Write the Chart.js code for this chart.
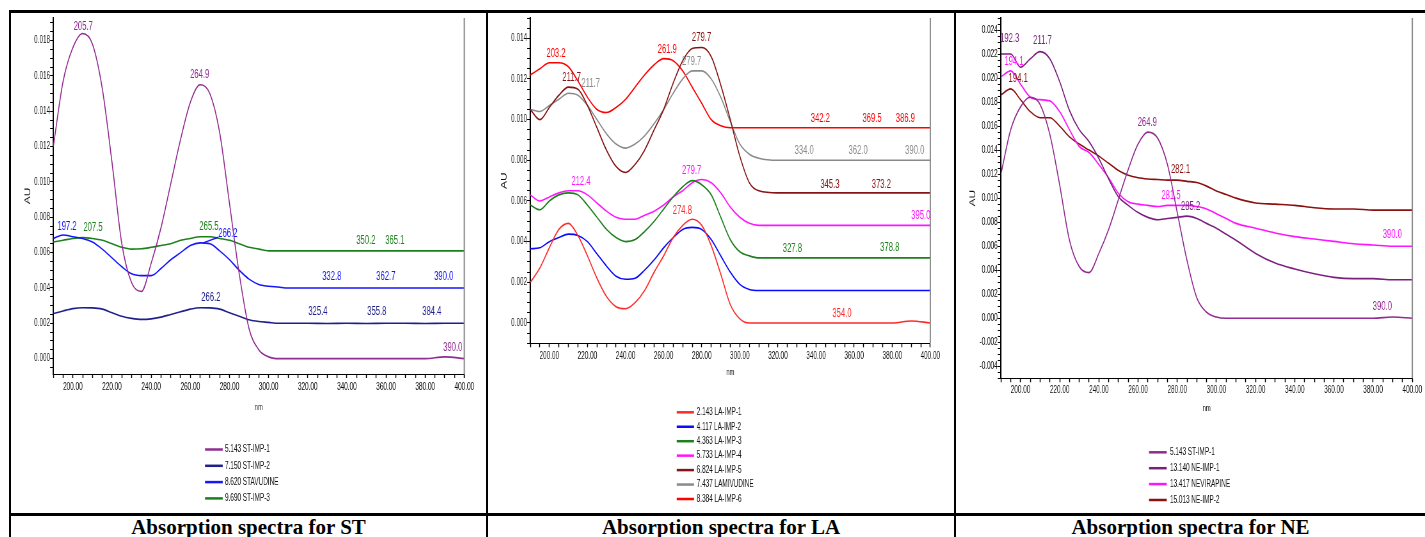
<!DOCTYPE html>
<html>
<head>
<meta charset="utf-8">
<title>Absorption spectra</title>
<script src="https://cdn.jsdelivr.net/npm/chart.js@4.4.1/dist/chart.umd.min.js"></script>
<style>
  html, body { margin: 0; padding: 0; background: #fff; }
  body { position: relative; width: 1425px; height: 537px; overflow: hidden; }
  canvas { position: absolute; top: 12px; }
  .rule { position: absolute; background: #000; z-index: 2; }
  .caption { position: absolute; top: 515px; font: bold 21px "Liberation Serif", "Times New Roman", serif;
             text-align: center; line-height: 24px; color: #000; }
</style>
</head>
<body>
<canvas id="chartST"></canvas>
<canvas id="chartLA"></canvas>
<canvas id="chartNE"></canvas>

<div class="rule" style="left:9px;top:10px;width:1416px;height:3px"></div>
<div class="rule" style="left:9px;top:10px;width:2px;height:527px"></div>
<div class="rule" style="left:486px;top:10px;width:2px;height:527px"></div>
<div class="rule" style="left:954px;top:10px;width:2px;height:527px"></div>
<div class="rule" style="left:9px;top:513px;width:1416px;height:3px"></div>

<div class="caption" style="left:11px;width:475px">Absorption spectra for ST</div>
<div class="caption" style="left:488px;width:466px">Absorption spectra for LA</div>
<div class="caption" style="left:956px;width:469px">Absorption spectra for NE</div>

<script>
// wavelengths (nm) shared by every trace
const nm = [190, 195, 200, 205, 210, 215, 220, 225, 230, 235, 240, 245, 250, 255, 260, 265, 270, 275, 280,
            285, 290, 295, 300, 305, 310, 320, 330, 340, 350, 360, 370, 380, 390, 400];

// --- ST panel (AU) ---
const stImp1 = [0.0120, 0.0157, 0.0176, 0.0184, 0.0178, 0.0153, 0.0111, 0.0065, 0.0043, 0.0038, 0.0054, 0.0074,
                0.0099, 0.0124, 0.0145, 0.0155, 0.0150, 0.0128, 0.0088, 0.0048, 0.0017, 0.0005, 0.0001, 0.0000,
                0.0000, 0.0000, 0.0000, 0.0000, 0.0000, 0.0000, 0.0000, 0.0000, 0.0001, 0.0000];
const stImp2 = [0.00255, 0.0027, 0.00283, 0.00288, 0.00287, 0.0028, 0.0026, 0.0024, 0.00228, 0.00222, 0.00225,
                0.00235, 0.0025, 0.00265, 0.0028, 0.00288, 0.00287, 0.0028, 0.0026, 0.0024, 0.0022, 0.0021,
                0.00205, 0.0020, 0.0020, 0.0020, 0.00199, 0.0020, 0.00199, 0.0020, 0.0020, 0.00199, 0.0020, 0.0020];
const stavudine = [0.0068, 0.0070, 0.0069, 0.0068, 0.0066, 0.0062, 0.0057, 0.0052, 0.0048, 0.0047, 0.0047, 0.0051,
                   0.0056, 0.0060, 0.0064, 0.00655, 0.0065, 0.0061, 0.0056, 0.0050, 0.0045, 0.0042, 0.0041, 0.00405,
                   0.0040, 0.0040, 0.0040, 0.0040, 0.0040, 0.0040, 0.0040, 0.0040, 0.0040, 0.0040];
const stImp3 = [0.0066, 0.0067, 0.0068, 0.00685, 0.0068, 0.0067, 0.0065, 0.0063, 0.0062, 0.00622, 0.0063, 0.0064,
                0.0065, 0.0067, 0.0068, 0.0069, 0.0069, 0.0068, 0.0067, 0.0065, 0.0063, 0.0062, 0.0061, 0.0061,
                0.0061, 0.0061, 0.0061, 0.0061, 0.0061, 0.0061, 0.0061, 0.0061, 0.0061, 0.0061];

// --- LA panel (AU) ---
const laImp1 = [0.0020, 0.0027, 0.0037, 0.0046, 0.0049, 0.0043, 0.0033, 0.0022, 0.0013, 0.0008, 0.0007, 0.0010,
                0.0016, 0.0025, 0.0033, 0.0042, 0.0048, 0.0051, 0.0048, 0.0038, 0.0024, 0.0009, 0.0002, 0.0000,
                0.0000, 0.0000, 0.0000, 0.0000, 0.0000, 0.0000, 0.0000, 0.0000, 0.0001, 0.0000];
const laImp2 = [0.00365, 0.0037, 0.0040, 0.0042, 0.00437, 0.0043, 0.0040, 0.0034, 0.0028, 0.0023, 0.00215, 0.0022,
                0.0026, 0.0031, 0.0037, 0.0042, 0.0046, 0.0047, 0.0046, 0.0041, 0.0033, 0.0025, 0.0019, 0.00165,
                0.0016, 0.0016, 0.0016, 0.0016, 0.0016, 0.0016, 0.0016, 0.0016, 0.0016, 0.0016];
const laImp3 = [0.0058, 0.00557, 0.0060, 0.0063, 0.0064, 0.0063, 0.0058, 0.0052, 0.0046, 0.0042, 0.0040, 0.0041,
                0.0045, 0.0050, 0.0056, 0.0062, 0.0067, 0.0070, 0.0068, 0.0063, 0.0052, 0.0041, 0.0035, 0.0033,
                0.0032, 0.0032, 0.0032, 0.0032, 0.0032, 0.0032, 0.0032, 0.0032, 0.0032, 0.0032];
const laImp4 = [0.0063, 0.0060, 0.0062, 0.0064, 0.0065, 0.0065, 0.0063, 0.0059, 0.0055, 0.0052, 0.0051, 0.0051,
                0.0053, 0.0055, 0.0058, 0.0062, 0.0065, 0.0069, 0.00706, 0.0069, 0.0064, 0.0057, 0.0052, 0.0049,
                0.0048, 0.0048, 0.0048, 0.0048, 0.0048, 0.0048, 0.0048, 0.0048, 0.0048, 0.0048];
const laImp5 = [0.0105, 0.0100, 0.0106, 0.0112, 0.0116, 0.0115, 0.0107, 0.0096, 0.0085, 0.0077, 0.0074, 0.0078,
                0.0085, 0.0095, 0.0105, 0.0118, 0.0129, 0.0135, 0.01355, 0.0131, 0.0117, 0.0100, 0.0082, 0.0069,
                0.0065, 0.0064, 0.0064, 0.0064, 0.0064, 0.0064, 0.0064, 0.0064, 0.0064, 0.0064];
const lamivudine = [0.0105, 0.0104, 0.0107, 0.0110, 0.0113, 0.0112, 0.0107, 0.0100, 0.0093, 0.0088, 0.0086, 0.0088,
                    0.0092, 0.0098, 0.0105, 0.0113, 0.0120, 0.0124, 0.0124, 0.0120, 0.0111, 0.0099, 0.0088, 0.0083,
                    0.0081, 0.0080, 0.0080, 0.0080, 0.0080, 0.0080, 0.0080, 0.0080, 0.0080, 0.0080];
const laImp6 = [0.0122, 0.0125, 0.0128, 0.0128, 0.0126, 0.0119, 0.0111, 0.0105, 0.01035, 0.0106, 0.0110, 0.0116,
                0.0122, 0.0127, 0.0130, 0.0129, 0.0124, 0.0116, 0.0108, 0.0100, 0.0097, 0.0096, 0.0096, 0.0096,
                0.0096, 0.0096, 0.0096, 0.0096, 0.0096, 0.0096, 0.0096, 0.0096, 0.0096, 0.0096];

// --- NE panel (AU), ST-IMP-1 is drawn again from stImp1 ---
const neImp1 = [0.0220, 0.0220, 0.0209, 0.0216, 0.0222, 0.0216, 0.0197, 0.0173, 0.0157, 0.0147, 0.0133, 0.0116,
                0.0101, 0.0094, 0.0088, 0.0084, 0.0082, 0.0083, 0.0084, 0.0085, 0.0083, 0.0079, 0.0075, 0.0070,
                0.0065, 0.0054, 0.0046, 0.0041, 0.0037, 0.0034, 0.0033, 0.0033, 0.0032, 0.0032];
const nevirapine = [0.0201, 0.0206, 0.0195, 0.0184, 0.0182, 0.0181, 0.0172, 0.0157, 0.0143, 0.0138, 0.0128, 0.0117,
                    0.0104, 0.0097, 0.0095, 0.0094, 0.0093, 0.0094, 0.0094, 0.0094, 0.0093, 0.0091, 0.0087, 0.0083,
                    0.0079, 0.0075, 0.0071, 0.0068, 0.0066, 0.0064, 0.0062, 0.0061, 0.0060, 0.0060];
const neImp2 = [0.0186, 0.0191, 0.0182, 0.0172, 0.0167, 0.0167, 0.0160, 0.0151, 0.0145, 0.0140, 0.0135, 0.0129,
                0.0123, 0.0119, 0.0117, 0.0116, 0.01155, 0.0115, 0.0115, 0.0114, 0.0113, 0.0110, 0.0106, 0.0103,
                0.0100, 0.0096, 0.0095, 0.0094, 0.0092, 0.0091, 0.0091, 0.0090, 0.0090, 0.0090];

// legend names
const stNames = ['5.143 ST-IMP-1', '7.150 ST-IMP-2', '8.620 STAVUDINE', '9.690 ST-IMP-3'];
const laNames = ['2.143 LA-IMP-1', '4.117 LA-IMP-2', '4.363 LA-IMP-3', '5.733 LA-IMP-4', '6.824 LA-IMP-5',
                 '7.437 LAMIVUDINE', '8.384 LA-IMP-6'];
const neNames = ['5.143 ST-IMP-1', '13.140 NE-IMP-1', '13.417 NEVIRAPINE', '15.013 NE-IMP-2'];

// peak labels: [nm, AU, text, trace index]
const stPeaks = [
  [205.3, 0.0188, '205.7', 0], [264.8, 0.01605, '264.9', 0], [197.0, 0.00748, '197.2', 2],
  [210.3, 0.00742, '207.5', 3], [269.5, 0.00748, '265.5', 3], [279.2, 0.0071, '266.2', 2],
  [349.7, 0.0067, '350.2', 3], [364.5, 0.0067, '365.1', 3], [332.3, 0.00464, '332.8', 2],
  [359.9, 0.00464, '362.7', 2], [389.5, 0.00464, '390.0', 2], [270.5, 0.00347, '266.2', 1],
  [325.2, 0.00263, '325.4', 1], [355.3, 0.00263, '355.8', 1], [383.4, 0.00263, '384.4', 1],
  [394.1, 0.00063, '390.0', 0]
];
// leader from a peak to a displaced label: [nm, AU, nm, AU, trace index]
const stLeaders = [[266.6, 0.00655, 274.3, 0.00687, 2]];

const laPeaks = [
  [203.5, 0.01325, '203.2', 6], [261.9, 0.01345, '261.9', 6], [279.9, 0.01402, '279.7', 4],
  [274.7, 0.01284, '279.7', 5], [211.7, 0.01204, '211.7', 4], [221.7, 0.01175, '211.7', 5],
  [342.3, 0.01006, '342.2', 6], [369.4, 0.01006, '369.5', 6], [386.9, 0.01006, '386.9', 6],
  [333.8, 0.00845, '334.0', 5], [362.1, 0.00845, '362.0', 5], [391.8, 0.00845, '390.0', 5],
  [347.3, 0.00681, '345.3', 4], [374.3, 0.00681, '373.2', 4], [216.6, 0.00694, '212.4', 3],
  [274.7, 0.00751, '279.7', 3], [395.0, 0.00529, '395.0', 3], [269.8, 0.0055, '274.8', 0],
  [327.6, 0.00363, '327.8', 2], [378.7, 0.00368, '378.8', 2], [353.6, 0.00047, '354.0', 0]
];
const nePeaks = [
  [194.5, 0.02326, '192.3', 1], [211.2, 0.02307, '211.7', 1], [196.7, 0.02135, '194.1', 2],
  [198.8, 0.01993, '194.1', 3], [264.7, 0.01631, '264.9', 0], [281.7, 0.01235, '282.1', 3],
  [276.8, 0.01023, '281.5', 2], [286.8, 0.0093, '285.2', 1], [389.8, 0.00696, '390.0', 2],
  [384.7, 0.00096, '390.0', 0]
];

// the pasted spectra are squeezed sideways, so each canvas is drawn wide and shrunk by css
const SQUASH = 0.64;
const TOP = 12;
const CANVAS_H = 501;
const AXIS_H = 40;
const FONT = '"Liberation Sans", Arial, sans-serif';

const panels = [
  {
    canvas: 'chartST', left: 11, width: 476, plotL: 53.3, plotR: 464.3, plotB: 374,
    yMin: -0.00087, yMax: 0.01928, tickPad: 3, nmY: 407.4, auX: 28.3,
    legend: { x0: 205, x1: 222.7, tx: 225, y0: 449.5, dy: 16.3 },
    names: stNames, series: [stImp1, stImp2, stavudine, stImp3],
    colors: ['#922b92', '#20208c', '#1515ff', '#1c801c'], peaks: stPeaks, leaders: stLeaders
  },
  {
    canvas: 'chartLA', left: 488, width: 466, plotL: 530.3, plotR: 930.3, plotB: 343.3,
    yMin: -0.001, yMax: 0.015, tickPad: 3, nmY: 372.3, auX: 504.7,
    legend: { x0: 676.7, x1: 694, tx: 696.7, y0: 412.3, dy: 14.45 },
    names: laNames, series: [laImp1, laImp2, laImp3, laImp4, laImp5, lamivudine, laImp6],
    colors: ['#ff2a2a', '#0a0aff', '#1c801c', '#ff14ff', '#861414', '#8a8a8a', '#ff0000'], peaks: laPeaks, leaders: []
  },
  {
    canvas: 'chartNE', left: 956, width: 469, plotL: 1000.9, plotR: 1412.3, plotB: 378.3,
    yMin: -0.005, yMax: 0.025, tickPad: 2, nmY: 408.5, auX: 973.3,
    legend: { x0: 1149, x1: 1166.7, tx: 1170, y0: 452.3, dy: 15.9 },
    names: neNames, series: [stImp1, neImp1, nevirapine, neImp2],
    colors: ['#922b92', '#7b1f7f', '#ff14ff', '#8b1010'], peaks: nePeaks, leaders: []
  }
];

function isMultiple(v, step) {
  return Math.abs(v / step - Math.round(v / step)) < 1e-6;
}

// right frame edge, peak labels and the stacked legend
function extras(p, cx, cy) {
  return {
    id: 'extras',
    afterDraw(chart) {
      const { ctx, chartArea: a, scales } = chart;
      const sets = chart.data.datasets;
      ctx.save();
      ctx.strokeStyle = '#8c8c8c';
      ctx.lineWidth = 2;
      ctx.beginPath();
      ctx.moveTo(a.right, a.top);
      ctx.lineTo(a.right, a.bottom);
      ctx.stroke();

      ctx.lineWidth = 1.3;
      p.leaders.forEach(([x1, y1, x2, y2, i]) => {
        ctx.strokeStyle = sets[i].borderColor;
        ctx.beginPath();
        ctx.moveTo(scales.x.getPixelForValue(x1), scales.y.getPixelForValue(y1));
        ctx.lineTo(scales.x.getPixelForValue(x2), scales.y.getPixelForValue(y2));
        ctx.stroke();
      });

      ctx.font = '12px ' + FONT;
      ctx.textAlign = 'center';
      ctx.textBaseline = 'middle';
      p.peaks.forEach(([w, v, txt, i]) => {
        ctx.fillStyle = sets[i].borderColor;
        ctx.fillText(txt, scales.x.getPixelForValue(w), scales.y.getPixelForValue(v));
      });

      const L = p.legend;
      ctx.font = '10px ' + FONT;
      ctx.textAlign = 'left';
      sets.forEach((d, i) => {
        const y = cy(L.y0 + i * L.dy);
        ctx.strokeStyle = d.borderColor;
        ctx.lineWidth = 2.5;
        ctx.beginPath();
        ctx.moveTo(cx(L.x0), y);
        ctx.lineTo(cx(L.x1), y);
        ctx.stroke();
        ctx.fillStyle = '#111';
        ctx.fillText(d.label, cx(L.tx), y);
      });
      ctx.restore();
    }
  };
}

function drawPanel(p) {
  const cv = document.getElementById(p.canvas);
  const cw = Math.round(p.width / SQUASH);
  const k = cw / p.width;
  cv.width = cw;
  cv.height = CANVAS_H;
  cv.style.left = p.left + 'px';
  cv.style.width = p.width + 'px';
  cv.style.height = CANVAS_H + 'px';

  const cx = x => (x - p.left) * k;
  const cy = y => y - TOP;
  const axisW = cx(p.plotL);
  const plotBottom = cy(p.plotB);
  const nmSize = 9, auSize = 12;

  new Chart(cv, {
    type: 'line',
    data: {
      datasets: p.series.map((vals, i) => ({
        label: p.names[i],
        data: nm.map((w, j) => ({ x: w, y: vals[j] })),
        borderColor: p.colors[i],
        borderWidth: 1.6,
        pointRadius: 0,
        fill: false,
        cubicInterpolationMode: 'monotone'
      }))
    },
    options: {
      responsive: false,
      animation: false,
      devicePixelRatio: 1,
      events: [],
      layout: {
        autoPadding: false,
        padding: { left: 0, top: 0, right: cw - cx(p.plotR), bottom: CANVAS_H - plotBottom - AXIS_H }
      },
      plugins: { legend: { display: false }, tooltip: { enabled: false } },
      scales: {
        x: {
          type: 'linear', min: 190, max: 400,
          afterFit: s => { s.height = AXIS_H; },
          ticks: {
            stepSize: 5, autoSkip: false, includeBounds: false, maxRotation: 0, padding: p.tickPad,
            color: '#111', font: { family: FONT, size: 10 },
            callback: v => (v % 20 === 0 ? v.toFixed(2) : '')
          },
          grid: { drawOnChartArea: false, tickLength: 4, tickWidth: 1.5, tickColor: '#000' },
          border: { color: '#000', width: 1 },
          title: {
            display: true, text: 'nm', color: '#111', font: { family: FONT, size: nmSize },
            padding: { top: 0, bottom: (plotBottom + AXIS_H) - cy(p.nmY) - nmSize * 0.6 }
          }
        },
        y: {
          type: 'linear', min: p.yMin, max: p.yMax,
          afterFit: s => { s.width = axisW; },
          ticks: {
            stepSize: 0.0005, autoSkip: false, includeBounds: false, padding: 0,
            color: '#111', font: { family: FONT, size: 10 },
            callback: v => (isMultiple(v, 0.002) ? (Math.abs(v) < 1e-9 ? 0 : v).toFixed(3) : '')
          },
          grid: { drawOnChartArea: false, tickLength: 5, tickWidth: 1, tickColor: '#000' },
          border: { color: '#000', width: 2 },
          title: {
            display: true, text: 'AU', color: '#111', font: { family: FONT, size: auSize },
            padding: { top: cx(p.auX) - auSize * 0.6, bottom: 0 }
          }
        }
      }
    },
    plugins: [extras(p, cx, cy)]
  });
}

panels.forEach(drawPanel);
</script>
</body>
</html>
